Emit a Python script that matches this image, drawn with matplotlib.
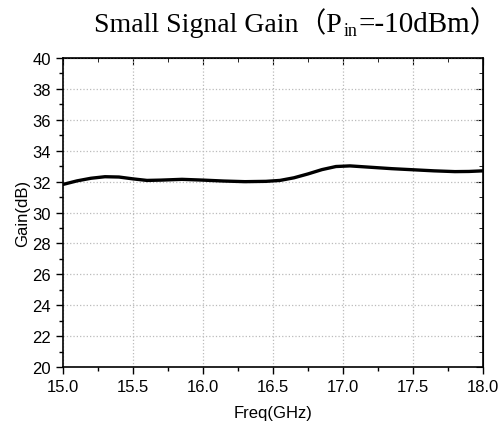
import matplotlib.pyplot as plt
from matplotlib.ticker import MultipleLocator

plt.rcParams['font.family'] = ['Liberation Sans', 'DejaVu Sans']

# gain curve
freq = [15.0, 15.1, 15.2, 15.3, 15.4, 15.5, 15.6, 15.7, 15.85, 16.0, 16.15,
        16.3, 16.45, 16.55, 16.65, 16.75, 16.85, 16.95, 17.05, 17.2, 17.35,
        17.5, 17.65, 17.8, 17.9, 18.0]
gain = [31.82, 32.05, 32.22, 32.32, 32.30, 32.18, 32.08, 32.10, 32.15, 32.10, 32.04,
        32.00, 32.02, 32.08, 32.25, 32.50, 32.78, 32.98, 33.02, 32.93, 32.84,
        32.77, 32.70, 32.65, 32.66, 32.70]

fig = plt.figure(figsize=(5.01, 4.31), dpi=100)
ax = fig.add_axes([0.1257, 0.146, 0.8383, 0.717])

ax.plot(freq, gain, color='black', linewidth=2.4, solid_capstyle='round')

ax.set_xlim(15.0, 18.0)
ax.set_ylim(20, 40)
ax.xaxis.set_major_locator(MultipleLocator(0.5))
ax.xaxis.set_minor_locator(MultipleLocator(0.25))
ax.yaxis.set_major_locator(MultipleLocator(2))
ax.yaxis.set_minor_locator(MultipleLocator(1))
ax.xaxis.set_major_formatter(plt.FormatStrFormatter('%.1f'))

ax.tick_params(axis='both', which='both', direction='out', labelsize=12,
               top=False, right=False)
ax.tick_params(which='major', length=5, width=1)
ax.tick_params(which='minor', length=3, width=1)
axt = ax.secondary_xaxis('top')
axt.xaxis.set_major_locator(MultipleLocator(0.5))
axt.xaxis.set_minor_locator(MultipleLocator(0.25))
axt.tick_params(which='both', direction='in', labeltop=False)
axt.tick_params(which='major', length=5)
axt.tick_params(which='minor', length=3)
axr = ax.secondary_yaxis('right')
axr.yaxis.set_major_locator(MultipleLocator(2))
axr.yaxis.set_minor_locator(MultipleLocator(1))
axr.tick_params(which='both', direction='in', labelright=False)
axr.tick_params(which='major', length=5)
axr.tick_params(which='minor', length=3)

for s in ax.spines.values():
    s.set_linewidth(1.2)

ax.grid(True, which='major', color='#bbbbbb', linestyle=':', linewidth=0.9)

ax.set_xlabel('Freq(GHz)', fontsize=12, labelpad=8)
ax.set_ylabel('Gain(dB)', fontsize=12, labelpad=2)

# title built from pieces so the subscript and full-width brackets work
serif = ['Liberation Serif', 'Noto Sans CJK SC']
pieces = [('Small Signal Gain（P', 20, 0, 2), ('in', 13, -4, 1), ('=-10dBm）', 21, 0, 0)]
renderer = fig.canvas.get_renderer()
x = 94
base_y = 431 - 32
for txt, size, dy, gap in pieces:
    t = fig.text(x / 501, (base_y + dy) / 431, txt, fontsize=size, family=serif,
                 ha='left', va='baseline')
    x += t.get_window_extent(renderer).width + gap

fig.savefig('out.png', dpi=100)
